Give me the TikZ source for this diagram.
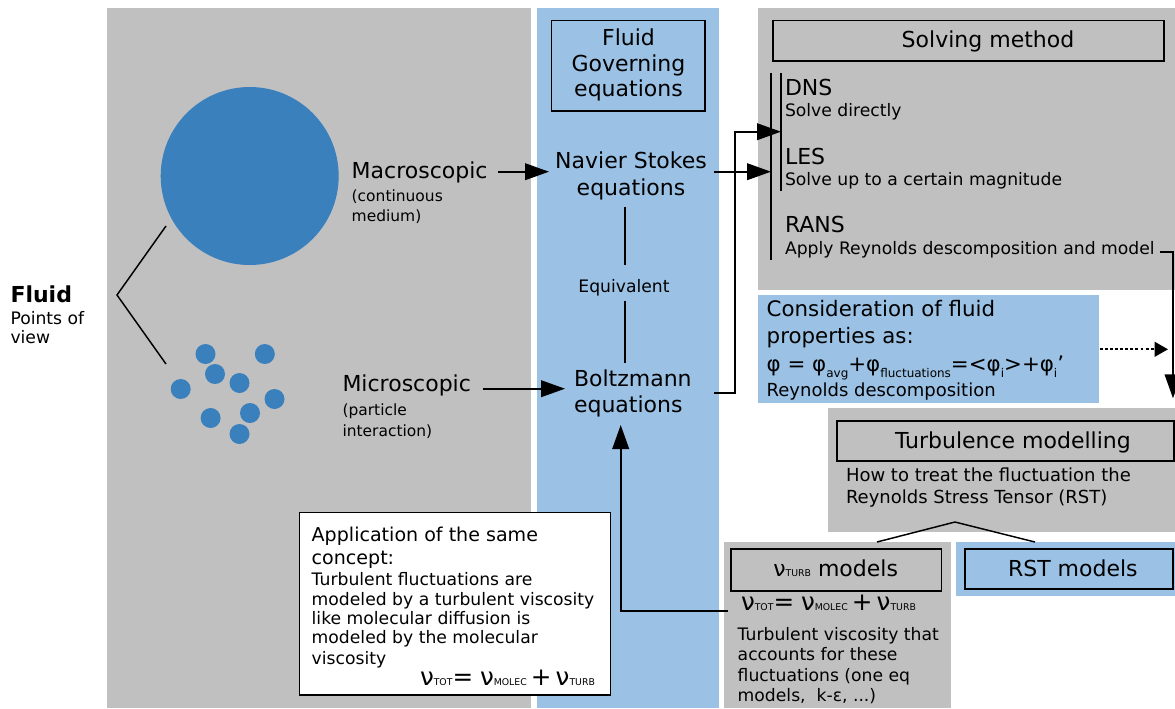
\documentclass[tikz,border=0pt]{standalone}
\usepackage{fontspec}
\setmainfont{DejaVu Sans}
\usetikzlibrary{arrows.meta,fit}

\definecolor{panelgrey}{RGB}{192,192,192}
\definecolor{panelblue}{RGB}{155,194,229}
\definecolor{dotblue}{RGB}{58,128,189}

% font sizes
\newcommand\fbig{\fontsize{16.5pt}{19pt}\selectfont}
\newcommand\fmid{\fontsize{12.9pt}{15pt}\selectfont}
\newcommand\fsm{\fontsize{11.6pt}{14pt}\selectfont}
\newcommand\frey{\fontsize{13.5pt}{16pt}\selectfont}
\newcommand\fapp{\fontsize{14.3pt}{17pt}\selectfont}
\newcommand\fcon{\fontsize{16pt}{19pt}\selectfont}
\newcommand\feq{\fontsize{18.5pt}{22pt}\selectfont}
\newcommand\fbold{\fontsize{16.5pt}{19pt}\selectfont\bfseries}
% small capital subscripts of the viscosities
\newcommand\nusub[1]{{\fontsize{7pt}{8pt}\selectfont #1}}
% lowered subscripts of the fluid property
\newcommand\phisub[1]{\raisebox{-0.25em}{\fontsize{9pt}{10pt}\selectfont #1}}
% total viscosity as sum of molecular and turbulent parts
\newcommand\nusum{ν\nusub{TOT}=\;ν\nusub{MOLEC}\,+\,ν\nusub{TURB}}

\begin{document}
\begin{tikzpicture}[x=0.75pt,y=-0.75pt,
  every node/.style={inner sep=0pt, outer sep=0pt},
  greypanel/.style={fill=panelgrey, draw=none},
  bluepanel/.style={fill=panelblue, draw=none},
  framed/.style={draw=black, line width=1.2pt},
  lbl/.style={anchor=base west, font=\fbig},
  lblc/.style={anchor=base, font=\fbig},
  note/.style={anchor=base west, font=\fmid},
  tiny/.style={anchor=base west, font=\fsm},
  thin/.style={line width=1.1pt},
  arr/.style={line width=1.3pt, -{Triangle[length=18pt,width=12.5pt]}},
  dotarr/.style={line width=1.3pt, dash pattern=on 2.2pt off 1.6pt,
                 -{Triangle[length=10pt,width=11pt]}},
  particle/.style={circle, fill=dotblue, minimum size=15pt}
]
\useasboundingbox (0,0) rectangle (1175,708);

% ---------- background panels ----------
\node[greypanel, fit={(107,8)(531,708)}] (leftpanel) {};
\node[bluepanel, fit={(537,8)(719,708)}] (eqcolumn) {};
\node[greypanel, fit={(758,8)(1175,289.5)}] (solvepanel) {};
\node[bluepanel, fit={(758,295)(1099,403)}] (consider) {};
\node[greypanel, fit={(828,408)(1175,532)}] (turbpanel) {};
\node[greypanel, fit={(723.5,542)(951,708)}] (nupanel) {};
\node[bluepanel, fit={(956,542)(1175,596)}] (rstpanel) {};
\node[fill=white, framed, fit={(299.5,512.5)(610.5,695)}] (samebox) {};

% ---------- framed titles ----------
\node[fill=panelblue, framed, fit={(551.5,20.5)(705,111)}] (fgebox) {};
\node[framed, fit={(773,20.5)(1164,61)}] (solvebox) {};
\node[framed, fit={(837,421)(1174,461)}] (turbbox) {};
\node[framed, fit={(731,549)(941.5,591)}] (nubox) {};
\node[framed, fit={(965,549)(1173,589)}] (rstbox) {};

% ---------- fluid and its two points of view ----------
\node[lbl, font=\fbold] (fluid) at (10.5,302.7) {Fluid};
\node[note] (pov1) at (10.5,324) {Points of};
\node[note] (pov2) at (10.5,343) {view};

\node[circle, fill=dotblue, minimum size=133.5pt] (medium) at (249.7,176) {};
\foreach \i/\px/\py in {1/205.5/354, 2/264.8/354, 3/215/374, 4/239.5/383,
                        5/180.7/389, 6/274.5/399, 7/210.6/418, 8/250/413,
                        9/239.5/434}
  \node[particle] (p\i) at (\px,\py) {};

\coordinate (brtop) at (166,226);
\coordinate (brmid) at (117,295);
\coordinate (brbot) at (166,364);
\draw[thin] (brtop) -- (brmid) -- (brbot);

\node[lbl] (macro) at (351.7,178) {Macroscopic};
\node[tiny] (macro2) at (351.7,201.7) {(continuous};
\node[tiny] (macro3) at (351.7,221.7) {medium)};
\node[lbl] (micro) at (342.5,391.7) {Microscopic};
\node[tiny] (micro2) at (342.5,415) {(particle};
\node[tiny] (micro3) at (342.5,436) {interaction)};

% ---------- governing equations ----------
\node[lblc] (fge1) at (628.5,45.7) {Fluid};
\node[lblc] (fge2) at (628.5,71.7) {Governing};
\node[lblc] (fge3) at (628.5,96.7) {equations};

\node[lblc] (ns1) at (631,168) {Navier Stokes};
\node[lblc] (ns2) at (631,195) {equations};
\node[lbl] (bz1) at (574,386) {Boltzmann};
\node[lbl] (bz2) at (574,412.7) {equations};
\node[anchor=base, font=\fmid] (equiv) at (624,292.7) {Equivalent};

\coordinate (eqa) at (625,207);
\coordinate (eqb) at (625,265);
\coordinate (eqc) at (625,301);
\coordinate (eqd) at (625,363);
\draw[thin] (eqa) -- (eqb);
\draw[thin] (eqc) -- (eqd);

\coordinate (macroout) at (498,171.7);
\coordinate (nsin) at (549,171.7);
\coordinate (microout) at (483,388.7);
\coordinate (bzin) at (565,388.7);
\draw[arr] (macroout) -- (nsin);
\draw[arr] (microout) -- (bzin);

% ---------- solving methods ----------
\node[anchor=base, font=\fbig] (solvetitle) at (988,47.7) {Solving method};
\node[lbl] (dns) at (785,95) {DNS};
\node[note] (dns2) at (785,116) {Solve directly};
\node[lbl] (les) at (785,164) {LES};
\node[note] (les2) at (785,185) {Solve up to a certain magnitude};
\node[lbl] (rans) at (785,232) {RANS};
\node[note] (rans2) at (785,254) {Apply Reynolds descomposition and model};

\coordinate (alltop) at (771,73);
\coordinate (allbot) at (771,260);
\coordinate (fewtop) at (781,73);
\coordinate (fewbot) at (781,191);
\draw[thin] (alltop) -- (allbot);
\draw[thin] (fewtop) -- (fewbot);

\coordinate (nsout) at (714,171.7);
\coordinate (nstip) at (771,171.7);
\coordinate (bzout) at (714,393.3);
\coordinate (bzup) at (735,393.3);
\coordinate (bztip) at (781,131.7);
\draw[arr] (nsout) -- (nstip);
\draw[arr] (bzout) -- (bzup) |- (bztip);

% ---------- Reynolds decomposition ----------
\node[anchor=base west, font=\fcon] (con1) at (766.7,316.7) {Consideration of fluid};
\node[anchor=base west, font=\fcon] (con2) at (766.7,343.3) {properties as:};
\node[anchor=base west, font=\fcon] (con3) at (766.7,371.7)
  {φ = φ\phisub{avg}+φ\phisub{fluctuations}=<φ\phisub{i}>+φ\phisub{i}’};
\node[anchor=base west, font=\frey] (con4) at (766.7,396.7) {Reynolds descomposition};

\coordinate (conout) at (1100,349.3);
\coordinate (contip) at (1168,349.3);
\draw[dotarr] (conout) -- (contip);

\coordinate (ransout) at (1160,252);
\coordinate (ransturn) at (1173,252);
\coordinate (turbin) at (1173,398.3);
\draw[arr] (ransout) -- (ransturn) -- (turbin);

% ---------- turbulence modelling ----------
\node[lbl] (turbtitle) at (895,448.3) {Turbulence modelling};
\node[anchor=base west, font=\frey] (turb2) at (846,481.7) {How to treat the fluctuation the};
\node[anchor=base west, font=\frey] (turb3) at (846,503.3) {Reynolds Stress Tensor (RST)};

\coordinate (split) at (955,522);
\coordinate (tonu) at (877,542);
\coordinate (torst) at (1035,542);
\draw[thin] (tonu) -- (split) -- (torst);

\node[lbl] (nutitle) at (773.3,576.7) {ν\nusub{TURB} models};
\node[anchor=base west, font=\feq] (nueq) at (741,610) {\nusum};
\node[note] (nu1) at (737.7,640) {Turbulent viscosity that};
\node[note] (nu2) at (737.7,660) {accounts for these};
\node[note] (nu3) at (737.7,681.7) {fluctuations (one eq};
\node[note] (nu4) at (737.7,701) {models,\ \ k-ε, ...)};

\node[lbl] (rsttitle) at (1008,576.7) {RST models};

% ---------- same concept ----------
\node[anchor=base west, font=\fapp] (same1) at (311.7,541) {Application of the same};
\node[anchor=base west, font=\fapp] (same2) at (311.7,564.3) {concept:};
\node[note] (same3) at (311.7,585) {Turbulent fluctuations are};
\node[note] (same4) at (311.7,605) {modeled by a turbulent viscosity};
\node[note] (same5) at (311.7,624.3) {like molecular diffusion is};
\node[note] (same6) at (311.7,643.7) {modeled by the molecular};
\node[note] (same7) at (311.7,664.3) {viscosity};
\node[anchor=base west, font=\feq] (sameeq) at (420,685) {\nusum};

\coordinate (nuout) at (728,611);
\coordinate (nuturn) at (620.7,611);
\coordinate (bzbelow) at (620.7,425);
\draw[arr] (nuout) -- (nuturn) -- (bzbelow);

\end{tikzpicture}
\end{document}
